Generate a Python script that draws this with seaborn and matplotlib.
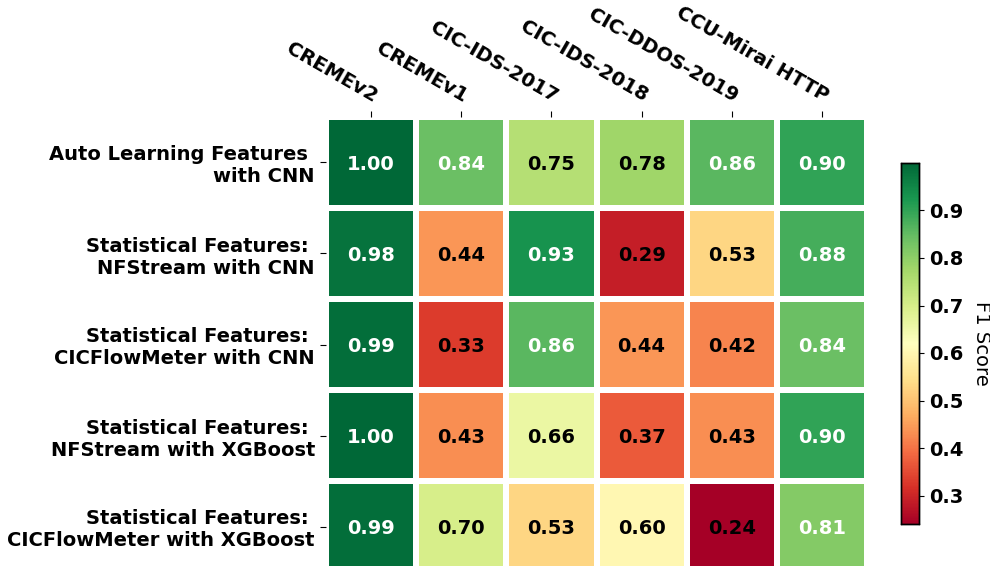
import matplotlib
matplotlib.use("Agg")
import matplotlib.pyplot as plt
import numpy as np
import pandas as pd
import seaborn as sns

datasets = ["CREMEv2", "CREMEv1", "CIC-IDS-2017", "CIC-IDS-2018",
            "CIC-DDOS-2019", "CCU-Mirai HTTP"]
methods = [
    "Auto Learning Features \nwith CNN",
    "Statistical Features: \nNFStream with CNN",
    "Statistical Features: \nCICFlowMeter with CNN",
    "Statistical Features: \nNFStream with XGBoost",
    "Statistical Features: \nCICFlowMeter with XGBoost",
]
auto_cnn = [1.00, 0.84, 0.75, 0.78, 0.86, 0.90]
nfstream_cnn = [0.98, 0.44, 0.93, 0.29, 0.53, 0.88]
cicflow_cnn = [0.99, 0.33, 0.86, 0.44, 0.42, 0.84]
nfstream_xgb = [1.00, 0.43, 0.66, 0.37, 0.43, 0.90]
cicflow_xgb = [0.99, 0.70, 0.53, 0.60, 0.24, 0.81]
cbar_ticks = [0.3, 0.4, 0.5, 0.6, 0.7, 0.8, 0.9]

scores = pd.DataFrame(
    [auto_cnn, nfstream_cnn, cicflow_cnn, nfstream_xgb, cicflow_xgb],
    index=methods, columns=datasets)

fig = plt.figure(figsize=(9.9, 5.66), dpi=100)
ax = fig.add_axes([326 / 990, -6 / 566, 541 / 990, 455 / 566])
cax = fig.add_axes([901 / 990, 42 / 566, 18 / 990, 361 / 566])

sns.heatmap(scores, ax=ax, cbar_ax=cax, cmap="RdYlGn", annot=True, fmt=".2f",
            linewidths=3, linecolor="white",
            annot_kws={"fontsize": 14, "fontweight": "bold",
                       "va": "center_baseline"},
            cbar_kws={"label": "F1 Score", "ticks": cbar_ticks})

# white labels on the strong scores, black elsewhere
for txt, val in zip(ax.texts, scores.values.ravel()):
    txt.set_color("white" if val >= 0.8 else "black")

ax.xaxis.tick_top()
ax.tick_params(axis="x", length=4, pad=4)
ax.tick_params(axis="y", length=4, pad=4)
plt.setp(ax.get_xticklabels(), rotation=-30, ha="right",
         rotation_mode="anchor", fontsize=14, fontweight="bold")
plt.setp(ax.get_yticklabels(), rotation=0, fontsize=14, fontweight="bold",
         multialignment="right", va="center_baseline")
ax.set_xlabel("")
ax.set_ylabel("")

cax.tick_params(labelsize=14)
for lbl in cax.get_yticklabels():
    lbl.set_fontweight("bold")
cax.set_ylabel("F1 Score", fontsize=14, rotation=270, labelpad=20)
for sp in cax.spines.values():
    sp.set_visible(True)
    sp.set_linewidth(1.0)
    sp.set_edgecolor("black")

fig.savefig("out.png", dpi=100)
